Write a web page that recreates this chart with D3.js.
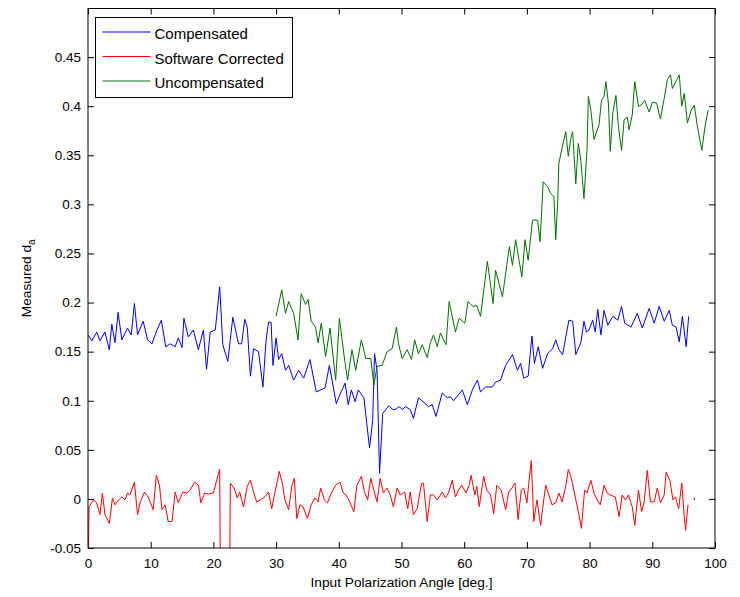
<!DOCTYPE html>
<html>
<head>
<meta charset="utf-8">
<script src="https://cdn.jsdelivr.net/npm/d3@7"></script>
<style>
	body { margin: 0; background: #fff; }
	svg { font-family: 'Liberation Sans', Arial, Helvetica, sans-serif; }
	.tick text { font-size: 13.5px; fill: #000; }
	.tick line { stroke: #000; }
	.axis-label { font-size: 13.7px; fill: #000; }
	.legend-text { font-size: 15px; fill: #000; }
</style>
</head>
<body>
<svg id="chart-svg" width="740" height="597"></svg>
<script>
// [angle (deg), measured d_a]
const compensated = [
	[0.05, 0.167], [0.6, 0.161], [1.4, 0.170], [1.9, 0.161], [2.7, 0.170], [3.4, 0.152], [3.8, 0.178], [4.3, 0.159],
	[4.8, 0.190], [5.4, 0.162], [6.3, 0.174], [6.9, 0.167], [7.4, 0.199], [7.9, 0.167], [8.8, 0.181], [9.5, 0.162],
	[10.2, 0.158], [11.0, 0.172], [11.7, 0.182], [12.4, 0.155], [13.1, 0.158], [13.9, 0.155], [14.4, 0.164], [15.0, 0.154],
	[15.3, 0.184], [16.0, 0.165], [16.8, 0.172], [17.6, 0.152], [18.4, 0.172], [18.9, 0.132], [19.5, 0.170], [20.3, 0.172],
	[21.0, 0.216], [21.5, 0.157], [22.3, 0.140], [23.1, 0.185], [24.0, 0.158], [24.5, 0.158], [25.0, 0.183], [25.4, 0.175],
	[25.9, 0.125], [26.4, 0.153], [27.2, 0.150], [27.9, 0.114], [28.4, 0.162], [28.8, 0.180], [29.2, 0.180], [29.5, 0.136],
	[30.0, 0.164], [30.4, 0.142], [30.9, 0.148], [31.5, 0.131], [32.0, 0.136], [32.8, 0.121], [33.6, 0.131], [34.4, 0.123],
	[35.4, 0.142], [36.4, 0.109], [37.8, 0.113], [38.5, 0.136], [39.6, 0.097], [40.3, 0.108], [41.0, 0.118], [41.5, 0.096],
	[42.0, 0.111], [42.6, 0.099], [43.1, 0.111], [44.0, 0.103], [44.9, 0.052], [45.4, 0.080], [45.7, 0.148], [46.1, 0.131],
	[46.5, 0.026], [47.0, 0.087], [48.0, 0.095], [48.6, 0.091], [49.0, 0.091], [49.6, 0.094], [50.2, 0.091], [50.6, 0.094],
	[51.4, 0.091], [51.9, 0.082], [52.7, 0.103], [53.8, 0.097], [54.3, 0.094], [54.9, 0.096], [55.5, 0.084], [56.5, 0.108],
	[57.3, 0.103], [57.8, 0.104], [58.3, 0.100], [59.7, 0.111], [60.5, 0.096], [61.3, 0.111], [62.1, 0.121], [62.6, 0.109],
	[63.4, 0.114], [64.5, 0.114], [65.0, 0.119], [65.8, 0.121], [66.6, 0.136], [67.7, 0.147], [68.5, 0.131], [69.0, 0.138],
	[69.5, 0.123], [70.2, 0.125], [70.8, 0.166], [71.2, 0.138], [71.8, 0.155], [72.5, 0.133], [73.3, 0.148], [74.1, 0.153],
	[74.6, 0.162], [75.1, 0.152], [75.7, 0.147], [76.2, 0.165], [76.7, 0.182], [77.3, 0.181], [77.8, 0.147], [78.6, 0.159],
	[79.1, 0.181], [79.5, 0.170], [79.9, 0.172], [80.5, 0.182], [80.9, 0.170], [81.3, 0.193], [81.8, 0.167], [82.3, 0.192],
	[82.9, 0.177], [83.7, 0.186], [84.5, 0.182], [85.1, 0.196], [85.6, 0.179], [86.6, 0.175], [87.6, 0.189], [88.4, 0.174],
	[89.5, 0.194], [90.3, 0.179], [91.1, 0.196], [91.9, 0.181], [92.7, 0.192], [93.2, 0.177], [93.8, 0.175], [94.3, 0.160],
	[94.8, 0.186], [95.4, 0.155], [95.8, 0.186]
];
const softwareCorrected = [
	[0, -0.09], [0.16, -0.008], [0.9, -0.001], [1.4, -0.004], [1.9, -0.016], [2.3, 0.006], [2.7, -0.016], [3.4, -0.025],
	[3.9, 0.001], [4.3, -0.006], [4.9, -0.001], [5.4, 0.002], [5.9, -0.001], [6.3, 0.006], [6.7, 0.004], [7.4, 0.017],
	[7.9, -0.016], [8.3, -0.004], [9.0, 0.007], [9.6, 0.002], [10.4, -0.011], [10.9, 0.024], [11.4, 0.014], [11.8, -0.011],
	[12.3, -0.006], [12.8, -0.023], [13.4, -0.023], [13.9, 0.007], [14.4, -0.004], [15.1, 0.007], [15.8, 0.006], [16.3, 0.009],
	[17.0, 0.017], [17.6, 0.014], [18.0, -0.004], [18.6, 0.006], [19.2, 0.005], [20.0, 0.006], [20.6, 0.021], [21.0, 0.030],
	[21.35, -0.3], [22.35, -0.3], [22.7, 0.016], [23.3, 0.011], [23.8, 0.001], [24.2, 0.007], [24.8, -0.008], [25.4, 0.013],
	[25.9, 0.019], [26.4, 0.007], [26.9, -0.003], [27.5, -0.001], [28.2, 0.002], [28.8, 0.007], [29.3, -0.010], [29.8, 0.006],
	[30.5, 0.028], [31.0, 0.016], [31.4, -0.001], [32.0, -0.011], [32.5, 0.013], [32.9, 0.021], [33.3, -0.020], [33.8, -0.006],
	[34.3, -0.008], [35.0, -0.020], [35.6, -0.006], [36.2, 0.001], [36.7, -0.003], [37.1, 0.011], [37.7, -0.001], [38.2, -0.004],
	[38.8, 0.006], [39.5, 0.014], [40.2, 0.017], [40.7, 0.006], [41.2, 0.004], [41.8, -0.004], [42.4, -0.013], [42.9, 0.014],
	[43.6, 0.023], [44.1, 0.007], [44.6, -0.001], [45.1, 0.021], [45.7, 0.006], [46.1, -0.003], [46.6, 0.021], [47.1, 0.006],
	[47.7, 0.011], [48.2, 0.004], [48.7, -0.008], [49.3, 0.011], [49.8, 0.004], [50.5, 0.007], [51.0, -0.010], [51.4, 0.007],
	[51.9, -0.016], [52.5, -0.010], [53.2, 0.016], [53.5, 0.016], [54.1, -0.023], [54.6, 0.004], [55.1, 0.004], [55.7, -0.001],
	[56.5, 0.007], [57.0, 0.001], [57.5, 0.006], [58.1, 0.019], [58.6, 0.002], [59.1, 0.009], [59.6, 0.014], [60.3, 0.006],
	[60.8, 0.014], [61.1, 0.024], [61.7, 0.004], [62.0, 0.013], [62.4, -0.008], [63.1, 0.023], [63.6, 0.009], [64.2, 0.004],
	[64.7, -0.015], [65.2, 0.014], [65.9, 0.009], [66.6, -0.011], [67.1, 0.007], [67.6, 0.011], [68.1, 0.016], [68.6, -0.021],
	[69.1, 0.009], [69.5, 0.011], [70.0, -0.004], [70.3, 0.016], [70.7, 0.039], [71.1, -0.023], [71.6, -0.001], [72.2, -0.027],
	[72.5, -0.010], [73.0, 0.014], [73.5, 0.004], [74.0, -0.006], [74.6, -0.004], [75.1, 0.006], [75.6, -0.003], [76.2, 0.013],
	[76.6, 0.030], [77.1, 0.021], [77.8, -0.001], [78.3, -0.016], [78.7, -0.030], [79.2, 0.009], [79.6, 0.006], [80.2, 0.019],
	[80.7, 0.006], [81.2, -0.001], [81.7, -0.006], [82.3, 0.014], [82.8, 0.006], [83.3, 0.004], [84.1, 0.002], [84.7, -0.018],
	[85.2, 0.004], [85.7, -0.001], [86.2, 0.004], [86.8, -0.008], [87.2, -0.027], [87.8, 0.009], [88.3, -0.013], [88.7, -0.003],
	[89.2, 0.029], [89.7, -0.003], [90.3, -0.003], [90.8, 0.011], [91.3, -0.004], [91.9, 0.004], [92.2, 0.027], [92.8, 0.019],
	[93.3, -0.001], [93.7, 0.002], [94.2, -0.010], [94.7, 0.016], [95.1, -0.018], [95.3, -0.032], [95.7, -0.006]
];
const uncompensated = [
	[30.0, 0.186], [30.9, 0.213], [31.5, 0.189], [32.0, 0.201], [32.8, 0.189], [33.5, 0.162], [34.0, 0.209], [34.7, 0.198],
	[35.1, 0.203], [35.6, 0.181], [36.3, 0.175], [36.7, 0.159], [37.2, 0.179], [37.9, 0.145], [38.6, 0.174], [39.5, 0.121],
	[40.1, 0.184], [40.8, 0.148], [41.4, 0.121], [42.1, 0.152], [42.7, 0.131], [43.6, 0.162], [44.3, 0.143], [45.1, 0.143],
	[45.6, 0.116], [46.1, 0.135], [46.9, 0.136], [47.7, 0.150], [48.5, 0.153], [49.2, 0.175], [49.5, 0.159], [50.1, 0.143],
	[50.9, 0.152], [51.6, 0.142], [52.1, 0.162], [52.7, 0.148], [53.3, 0.157], [54.1, 0.144], [54.6, 0.159], [55.1, 0.167],
	[55.7, 0.155], [56.2, 0.169], [57.1, 0.157], [57.6, 0.201], [58.6, 0.170], [59.2, 0.184], [60.1, 0.179], [60.6, 0.201],
	[61.4, 0.196], [62.0, 0.197], [62.6, 0.186], [63.7, 0.242], [64.6, 0.199], [65.0, 0.233], [66.1, 0.206], [66.9, 0.243],
	[67.2, 0.257], [67.7, 0.238], [68.2, 0.264], [69.2, 0.226], [69.7, 0.264], [70.2, 0.243], [70.9, 0.284], [71.7, 0.284],
	[72.1, 0.262], [72.6, 0.323], [73.3, 0.318], [73.8, 0.311], [74.3, 0.308], [74.6, 0.264], [74.9, 0.301], [75.1, 0.342],
	[75.7, 0.360], [76.2, 0.374], [76.6, 0.349], [77.0, 0.367], [77.3, 0.374], [77.8, 0.321], [78.2, 0.362], [78.6, 0.345],
	[79.1, 0.306], [79.6, 0.357], [79.8, 0.410], [80.2, 0.396], [80.7, 0.366], [81.5, 0.381], [81.9, 0.406], [82.3, 0.410],
	[82.6, 0.425], [83.0, 0.403], [83.3, 0.354], [83.7, 0.393], [84.2, 0.411], [84.6, 0.379], [85.1, 0.355], [85.5, 0.386],
	[86.0, 0.389], [86.3, 0.376], [86.8, 0.391], [87.2, 0.425], [87.8, 0.400], [88.2, 0.401], [88.8, 0.406], [89.5, 0.394],
	[90.0, 0.404], [90.7, 0.403], [91.3, 0.387], [91.9, 0.408], [92.4, 0.427], [92.9, 0.432], [93.2, 0.418], [94.3, 0.432],
	[94.7, 0.400], [95.1, 0.413], [95.6, 0.383], [96.2, 0.396], [96.7, 0.401], [97.2, 0.379], [97.9, 0.355], [98.4, 0.379],
	[98.9, 0.396]
];
const strayPoint = [[96.7, 0]];

const seriesNames = ['Compensated', 'Software Corrected', 'Uncompensated'];
const seriesColors = ['#0000ff', '#ff0000', '#007000'];
const xTicks = [0, 10, 20, 30, 40, 50, 60, 70, 80, 90, 100];
const yTicks = [-0.05, 0, 0.05, 0.1, 0.15, 0.2, 0.25, 0.3, 0.35, 0.4, 0.45];
const yTickLabels = ['-0.05', '0', '0.05', '0.1', '0.15', '0.2', '0.25', '0.3', '0.35', '0.4', '0.45'];

const PADDING = { top: 8.5, bottom: 49, left: 88, right: 25 };

let svg = d3.select('#chart-svg');
const svgWidth = 740;
const svgHeight = 597;
const plotW = svgWidth - PADDING.left - PADDING.right;
const plotH = svgHeight - PADDING.top - PADDING.bottom;

const xScale = d3.scaleLinear().domain([ 0, 100 ]).range([ PADDING.left, PADDING.left + plotW ]);
const yScale = d3.scaleLinear().domain([ -0.05, 0.4995 ]).range([ PADDING.top + plotH, PADDING.top ]);

svg.append('rect').attr('width', svgWidth).attr('height', svgHeight).attr('fill', '#fff');

svg
	.append('clipPath')
	.attr('id', 'plot-clip')
	.append('rect')
	.attr('x', PADDING.left)
	.attr('y', PADDING.top)
	.attr('width', plotW)
	.attr('height', plotH);

// axes, ticks point inward on all four sides
const tickLen = 6;
svg
	.append('g')
	.attr('transform', 'translate(0, ' + (PADDING.top + plotH) + ')')
	.call(d3.axisBottom(xScale).tickValues(xTicks).tickSize(-tickLen).tickPadding(10).tickFormat(d3.format('d')))
	.call((g) => g.select('.domain').remove());
svg
	.append('g')
	.attr('transform', 'translate(0, ' + PADDING.top + ')')
	.call(d3.axisTop(xScale).tickValues(xTicks).tickSize(-tickLen).tickFormat(''))
	.call((g) => g.select('.domain').remove());
svg
	.append('g')
	.attr('transform', 'translate(' + PADDING.left + ', 0)')
	.call(d3.axisLeft(yScale).tickValues(yTicks).tickSize(-tickLen).tickPadding(7).tickFormat((d, i) => yTickLabels[i]))
	.call((g) => g.select('.domain').remove());
svg
	.append('g')
	.attr('transform', 'translate(' + (PADDING.left + plotW) + ', 0)')
	.call(d3.axisRight(yScale).tickValues(yTicks).tickSize(-tickLen).tickFormat(''))
	.call((g) => g.select('.domain').remove());
svg.selectAll('.tick text').attr('font-family', null).attr('font-size', null);

// data lines
const line = d3.line().x((d) => xScale(d[0])).y((d) => yScale(d[1]));
const allSeries = [ compensated, softwareCorrected, uncompensated ];
svg
	.append('g')
	.attr('clip-path', 'url(#plot-clip)')
	.selectAll('path')
	.data(allSeries)
	.enter()
	.append('path')
	.attr('d', line)
	.attr('fill', 'none')
	.attr('stroke', (d, i) => seriesColors[i])
	.attr('stroke-width', 1);

svg
	.selectAll('.stray')
	.data(strayPoint)
	.enter()
	.append('rect')
	.attr('class', 'stray')
	.attr('x', (d) => xScale(d[0]) - 0.5)
	.attr('y', (d) => yScale(d[1]) - 1)
	.attr('width', 1)
	.attr('height', 2)
	.attr('fill', '#0000ff');

// box
svg
	.append('rect')
	.attr('x', PADDING.left)
	.attr('y', PADDING.top)
	.attr('width', plotW)
	.attr('height', plotH)
	.attr('fill', 'none')
	.attr('stroke', '#000')
	.attr('stroke-width', 1);

// axis labels
svg
	.append('text')
	.attr('class', 'axis-label')
	.attr('x', PADDING.left + plotW / 2)
	.attr('y', svgHeight - 10)
	.attr('text-anchor', 'middle')
	.text('Input Polarization Angle [deg.]');
let yLabel = svg
	.append('text')
	.attr('class', 'axis-label')
	.attr('transform', 'translate(31, ' + (PADDING.top + plotH / 2) + ') rotate(-90)')
	.attr('text-anchor', 'middle');
yLabel.append('tspan').text('Measured d');
yLabel.append('tspan').attr('font-size', '10px').attr('dy', 4).text('a');

// legend
let legendG = svg.append('g').attr('id', 'legend').attr('transform', 'translate(95.5, 17.5)');
legendG
	.append('rect')
	.attr('width', 197)
	.attr('height', 80)
	.attr('fill', '#fff')
	.attr('stroke', '#000')
	.attr('stroke-width', 1);
let legendRows = legendG
	.selectAll('.legend-row')
	.data(seriesNames)
	.enter()
	.append('g')
	.attr('class', 'legend-row')
	.attr('transform', (d, i) => 'translate(0, ' + (14.5 + i * 24.5) + ')');
legendRows
	.append('line')
	.attr('x1', 7)
	.attr('x2', 55)
	.attr('y1', 0)
	.attr('y2', 0)
	.attr('stroke', (d, i) => seriesColors[i])
	.attr('stroke-width', 1);
legendRows
	.append('text')
	.attr('class', 'legend-text')
	.attr('x', 59)
	.attr('y', 7)
	.text((d) => d);
</script>
</body>
</html>
